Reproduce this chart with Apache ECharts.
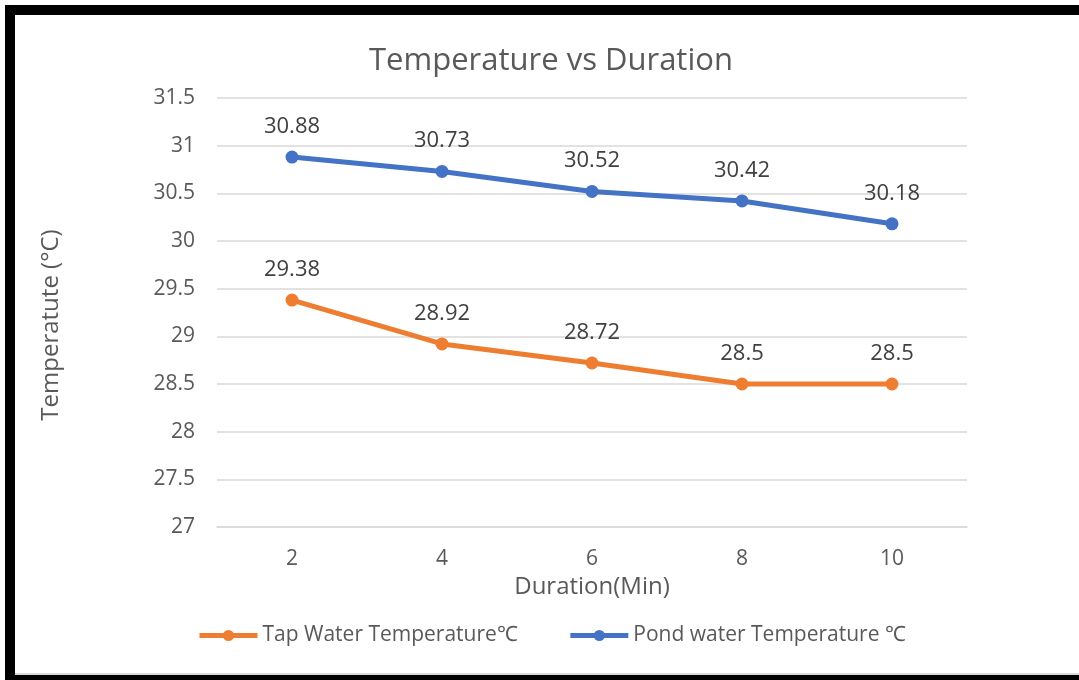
<!DOCTYPE html>
<html>
<head>
<meta charset="utf-8">
<script src="https://cdn.jsdelivr.net/npm/echarts@6/dist/echarts.min.js"></script>
<style>
html,body{margin:0;padding:0;background:#fff;}
#chart{position:absolute;left:0;top:0;width:1079px;height:680px;}
.b{position:absolute;background:#000;}
</style>
</head>
<body>
<div id="chart"></div>
<div class="b" style="left:0;top:0;width:1079px;height:5px;background:#fff"></div>
<div class="b" style="left:5px;top:5px;width:1074px;height:10px;"></div>
<div class="b" style="left:5px;top:5px;width:10px;height:675px;"></div>
<div class="b" style="left:5px;top:675px;width:1074px;height:5px;"></div>
<div class="b" style="left:15px;top:673px;width:1064px;height:2px;background:#d9d9d9"></div>
<script>
const categories = ['2', '4', '6', '8', '10'];
const tapWater = [29.38, 28.92, 28.72, 28.5, 28.5];
const pondWater = [30.88, 30.73, 30.52, 30.42, 30.18];
const tapName = 'Tap Water Temperature\u2103';
const pondName = 'Pond water Temperature \u2103';
const yTitle = 'Temperatute (\u00B0C)';
const xTitle = 'Duration(Min)';
const chartTitle = 'Temperature vs Duration';

const font = '"Open Sans", "Liberation Sans", sans-serif';
const chart = echarts.init(document.getElementById('chart'));
chart.setOption({
  animation: false,
  backgroundColor: 'transparent',
  title: {
    text: chartTitle,
    left: 364, top: 41,
    textStyle: {fontFamily: font, fontSize: 31, fontWeight: 'normal', color: '#595959'}
  },
  graphic: [{
    type: 'text', x: 51, y: 325, rotation: Math.PI / 2,
    style: {text: yTitle, fontFamily: font, fontSize: 24, fill: '#595959', align: 'center', verticalAlign: 'middle'}
  }],
  grid: {left: 217, right: 112, top: 98, bottom: 153, containLabel: false},
  legend: {
    bottom: 29, left: 192,
    itemWidth: 58, itemHeight: 14, itemGap: 50,
    lineStyle: {width: 5},
    textStyle: {fontFamily: font, fontSize: 21, color: '#595959'},
    data: [tapName, pondName]
  },
  xAxis: {
    type: 'category', data: categories, boundaryGap: true,
    name: xTitle, nameLocation: 'middle', nameGap: 47,
    nameTextStyle: {fontFamily: font, fontSize: 24, color: '#595959'},
    axisLine: {show: true, lineStyle: {color: '#d9d9d9', width: 1.5}},
    axisTick: {show: false},
    axisLabel: {fontFamily: font, fontSize: 21, color: '#595959', margin: 22}
  },
  yAxis: {
    type: 'value', min: 27, max: 31.5, interval: 0.5,
    axisLine: {show: false}, axisTick: {show: false},
    axisLabel: {fontFamily: font, fontSize: 21, color: '#595959', margin: 22},
    splitLine: {lineStyle: {color: '#d9d9d9', width: 1.5}}
  },
  series: [
    {
      name: tapName, type: 'line', data: tapWater,
      color: '#ED7D31', symbol: 'circle', symbolSize: 13,
      lineStyle: {width: 5, color: '#ED7D31'},
      itemStyle: {color: '#ED7D31'},
      label: {show: true, position: 'top', distance: 13, fontFamily: font, fontSize: 22, color: '#404040'}
    },
    {
      name: pondName, type: 'line', data: pondWater,
      color: '#4472C4', symbol: 'circle', symbolSize: 13,
      lineStyle: {width: 5, color: '#4472C4'},
      itemStyle: {color: '#4472C4'},
      label: {show: true, position: 'top', distance: 13, fontFamily: font, fontSize: 22, color: '#404040'}
    }
  ]
});
</script>
</body>
</html>
